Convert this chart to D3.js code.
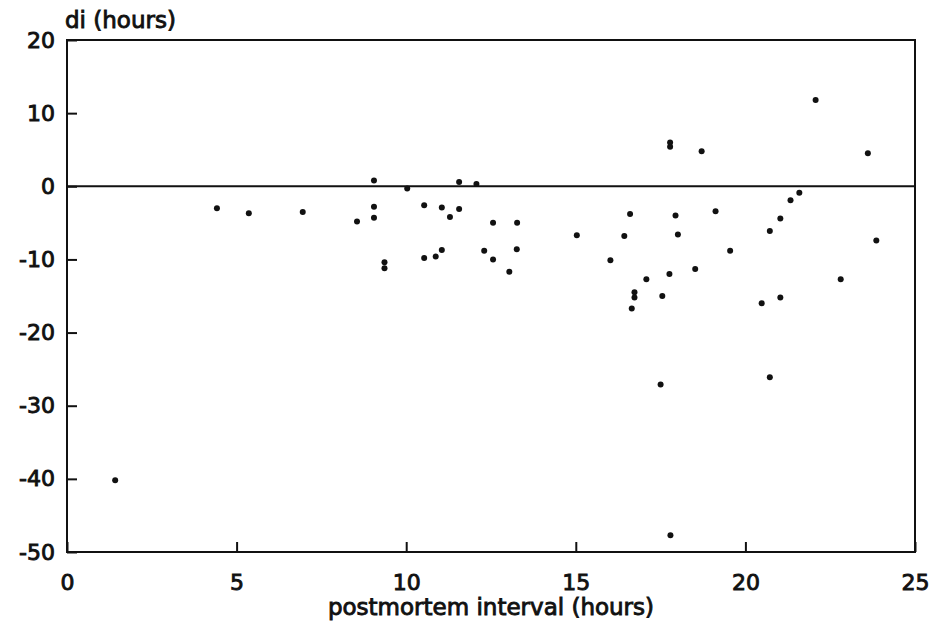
<!DOCTYPE html>
<html>
<head>
<meta charset="utf-8">
<script src="https://cdn.jsdelivr.net/npm/d3@7"></script>
<style>
  body { margin: 0; background: #fff; }
  .chart text { font-family: "DejaVu Sans", sans-serif; fill: #111; stroke: #111; stroke-width: 0.9px; }
  .axis line { stroke: #111; stroke-width: 2px; }
</style>
</head>
<body>
<div class="chart"></div>
<script>
const WIDTH = 935;
const HEIGHT = 627;

const LEFT = 67;
const RIGHT = 915;
const TOP = 40;
const BOTTOM = 552;

// postmortem interval (hours) and di (hours)
var intervalHours = [1.42, 4.42, 5.36, 6.95, 8.55, 9.05, 9.05, 9.05, 9.36, 9.36,
    10.03, 10.53, 10.53, 10.87, 11.05, 11.05, 11.29, 11.56, 11.56, 12.07,
    12.3, 12.56, 12.56, 13.04, 13.26, 13.27, 15.03, 16.02, 16.43, 16.6,
    16.65, 16.73, 16.73, 17.08, 17.5, 17.55, 17.76, 17.78, 17.78, 17.79,
    17.94, 18.01, 18.52, 18.71, 19.12, 19.55, 20.48, 20.72, 20.72, 21.03,
    21.03, 21.33, 21.59, 22.07, 22.81, 23.61, 23.86];
var diHours = [-40.2, -3.0, -3.7, -3.5, -4.8, 0.8, -2.8, -4.3, -10.4, -11.2,
    -0.3, -2.6, -9.8, -9.6, -2.9, -8.7, -4.2, -3.1, 0.6, 0.3,
    -8.8, -5.0, -10.0, -11.7, -8.6, -5.0, -6.7, -10.1, -6.8, -3.8,
    -16.7, -14.5, -15.2, -12.7, -27.1, -15.0, -12.0, 6.0, 5.4, -47.7,
    -4.0, -6.6, -11.3, 4.8, -3.4, -8.8, -16.0, -6.1, -26.1, -4.4,
    -15.2, -1.9, -0.9, 11.8, -12.7, 4.5, -7.4];

var xTicks = [0, 5, 10, 15, 20, 25];
var yTicks = [20, 10, 0, -10, -20, -30, -40, -50];

var xLabel = "postmortem interval (hours)";
var yLabel = "di (hours)";

var translate = function (x, y) {
    return "translate(" + x + "," + y + ")";
};

var svg = d3.select('.chart').append('svg')
    .attr('width', WIDTH)
    .attr('height', HEIGHT);

var xScale = d3.scaleLinear().domain([0, 25]).range([LEFT, RIGHT]);
var yScale = d3.scaleLinear().domain([-50, 20]).range([BOTTOM, TOP]);

// inward ticks, no domain path (frame drawn separately)
var xAxis = d3.axisBottom(xScale).tickValues(xTicks).tickSizeInner(-10).tickSizeOuter(0).tickPadding(22);
var yAxis = d3.axisLeft(yScale).tickValues(yTicks).tickSizeInner(-10).tickSizeOuter(0).tickPadding(12)
    .tickFormat(function (d) { return d < 0 ? "-" + Math.abs(d) : d; });

var gx = svg.append('g')
    .attr('class', 'axis')
    .attr('transform', translate(0, BOTTOM))
    .call(xAxis);
gx.select('.domain').remove();
gx.selectAll('text').attr('font-size', 22).attr('fill', null);

var gy = svg.append('g')
    .attr('class', 'axis')
    .attr('transform', translate(LEFT, 0))
    .call(yAxis);
gy.select('.domain').remove();
gy.selectAll('text').attr('font-size', 22).attr('fill', null);

svg.append('rect')
    .attr('x', LEFT)
    .attr('y', TOP)
    .attr('width', RIGHT - LEFT)
    .attr('height', BOTTOM - TOP)
    .attr('fill', 'none')
    .attr('stroke', '#111')
    .attr('stroke-width', 2);

// zero reference line
svg.append('line')
    .attr('x1', LEFT).attr('x2', RIGHT)
    .attr('y1', yScale(0)).attr('y2', yScale(0))
    .attr('stroke', '#111')
    .attr('stroke-width', 2);

svg.append('g')
    .selectAll('circle')
    .data(d3.range(intervalHours.length))
    .enter().append('circle')
    .attr('cx', function (i) { return xScale(intervalHours[i]); })
    .attr('cy', function (i) { return yScale(diHours[i]); })
    .attr('r', 3)
    .attr('fill', '#111');

svg.append('text')
    .attr('x', (LEFT + RIGHT) / 2)
    .attr('y', 615)
    .attr('text-anchor', 'middle')
    .attr('font-size', 23)
    .text(xLabel);

svg.append('text')
    .attr('x', 65)
    .attr('y', 28)
    .attr('font-size', 23)
    .text(yLabel);
</script>
</body>
</html>
